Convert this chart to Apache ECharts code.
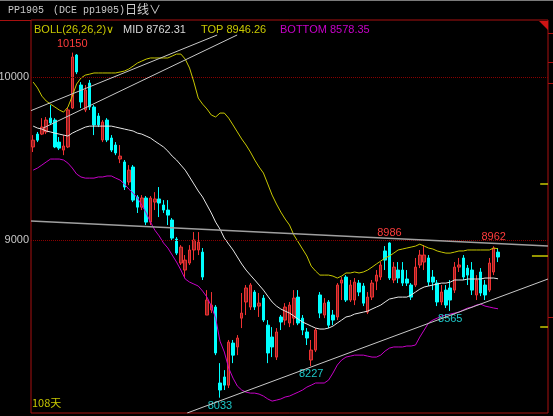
<!DOCTYPE html>
<html>
<head>
<meta charset="utf-8">
<title>PP1905 日线</title>
<script src="https://cdn.jsdelivr.net/npm/echarts@6/dist/echarts.min.js"></script>
<style>
html, body { margin: 0; padding: 0; background: #000; }
#main { width: 553px; height: 416px; }
</style>
</head>
<body>
<div id="main"></div>
<script>
// 108 trading days are shown, the rest of the axis is free room on the right
const dayCount = 108;
const emptySlots = 11;
const days = [];
for (let i = 0; i < dayCount + emptySlots; i++) days.push(i < dayCount ? 'D' + (i + 1) : '');

// K line
const opens = [9571, 9650, 9650, 9663, 9748, 9736, 9601, 9552, 9571, 9810,
  10135, 9951, 9798, 9963, 9816, 9761, 9614, 9736, 9626, 9583,
  9497, 9479, 9356, 9448, 9264, 9202, 9258, 9110, 9233, 9252,
  9215, 9184, 9123, 9006, 8859, 8816, 8859, 8939, 8939, 8926,
  8540, 8571, 8589, 8123, 8160, 8110, 8368, 8344, 8521, 8620,
  8589, 8681, 8595, 8644, 8478, 8405, 8282, 8528, 8509, 8491,
  8521, 8650, 8521, 8436, 8264, 8325, 8663, 8540, 8620, 8540,
  8528, 8736, 8773, 8632, 8632, 8736, 8718, 8558, 8650, 8748,
  8773, 8933, 8982, 8755, 8816, 8816, 8761, 8724, 8724, 8847,
  8865, 8890, 8773, 8736, 8620, 8693, 8706, 8693, 8834, 8890,
  8828, 8816, 8663, 8804, 8724, 8693, 8804, 8926];
const closes = [9613, 9613, 9693, 9736, 9718, 9571, 9564, 9577, 9798, 10123,
  10031, 9847, 9920, 9816, 9706, 9706, 9724, 9614, 9552, 9534,
  9515, 9325, 9429, 9245, 9202, 9258, 9110, 9258, 9252, 9227,
  9184, 9153, 9012, 8920, 8957, 8877, 8939, 9000, 8988, 8773,
  8632, 8601, 8307, 8080, 8110, 8374, 8294, 8399, 8552, 8706,
  8724, 8589, 8613, 8509, 8307, 8344, 8436, 8497, 8589, 8601,
  8644, 8491, 8448, 8399, 8325, 8448, 8552, 8613, 8478, 8509,
  8724, 8755, 8632, 8724, 8742, 8681, 8613, 8650, 8736, 8785,
  8847, 8877, 8767, 8834, 8767, 8736, 8736, 8650, 8834, 8908,
  8908, 8742, 8742, 8620, 8681, 8601, 8632, 8834, 8847, 8773,
  8785, 8693, 8755, 8675, 8663, 8859, 8951, 8896];
const lows = [9540, 9601, 9644, 9650, 9706, 9564, 9552, 9521, 9564, 9804,
  10018, 9810, 9785, 9798, 9644, 9693, 9601, 9601, 9540, 9521,
  9472, 9307, 9337, 9233, 9166, 9184, 9092, 9092, 9184, 9141,
  9166, 9092, 9000, 8908, 8847, 8767, 8847, 8877, 8908, 8755,
  8540, 8552, 8294, 8033, 8080, 8092, 8245, 8294, 8460, 8540,
  8571, 8571, 8528, 8497, 8245, 8282, 8264, 8448, 8478, 8466,
  8478, 8478, 8417, 8356, 8227, 8313, 8521, 8521, 8460, 8478,
  8509, 8632, 8620, 8620, 8601, 8656, 8595, 8546, 8632, 8693,
  8755, 8816, 8755, 8736, 8736, 8718, 8718, 8632, 8712, 8828,
  8816, 8718, 8693, 8595, 8601, 8583, 8565, 8675, 8804, 8755,
  8724, 8663, 8632, 8656, 8632, 8681, 8785, 8865];
const highs = [9644, 9663, 9748, 9755, 9828, 9748, 9632, 9644, 9810, 10150,
  10141, 9969, 9951, 9982, 9828, 9779, 9736, 9748, 9644, 9601,
  9583, 9491, 9460, 9460, 9276, 9276, 9270, 9270, 9294, 9325,
  9245, 9245, 9135, 9018, 8969, 8908, 8969, 9049, 9049, 8951,
  8693, 8681, 8601, 8245, 8202, 8387, 8387, 8417, 8675, 8724,
  8736, 8693, 8675, 8663, 8509, 8466, 8460, 8540, 8613, 8620,
  8693, 8693, 8540, 8460, 8387, 8460, 8681, 8644, 8632, 8571,
  8736, 8773, 8785, 8755, 8767, 8755, 8736, 8681, 8755, 8816,
  8865, 8963, 8986, 8865, 8865, 8865, 8816, 8736, 8890, 8939,
  8969, 8908, 8816, 8755, 8724, 8724, 8755, 8865, 8890, 8908,
  8847, 8865, 8785, 8828, 8755, 8890, 8962, 8951];

// BOLL(26,26,2) bands
const bollTop = [9969, 9933, 9883, 9853, 9834, 9816, 9798, 9785, 9816, 9883,
  9957, 9994, 10012, 10018, 10025, 10025, 10025, 10025, 10025, 10025,
  10031, 10037, 10049, 10067, 10086, 10098, 10110, 10117, 10117, 10117,
  10117, 10117, 10129, 10141, 10141, 10110, 10055, 9969, 9871, 9834,
  9804, 9767, 9755, 9779, 9779, 9748, 9706, 9663, 9620, 9583,
  9540, 9491, 9448, 9411, 9344, 9276, 9221, 9172, 9129, 9092,
  9031, 8988, 8945, 8902, 8840, 8810, 8785, 8785, 8785, 8779,
  8767, 8779, 8798, 8798, 8804, 8798, 8804, 8816, 8834, 8853,
  8871, 8890, 8902, 8920, 8939, 8945, 8951, 8957, 8963, 8975,
  8963, 8951, 8945, 8933, 8926, 8920, 8920, 8926, 8933, 8933,
  8939, 8939, 8939, 8939, 8939, 8939, 8951, 8946.26];
const bollMid = [9699, 9687, 9681, 9669, 9663, 9656, 9650, 9644, 9638, 9656,
  9669, 9681, 9693, 9699, 9699, 9699, 9699, 9699, 9699, 9693,
  9687, 9681, 9675, 9669, 9656, 9650, 9638, 9626, 9607, 9589,
  9571, 9546, 9515, 9491, 9460, 9429, 9387, 9344, 9301, 9264,
  9215, 9166, 9110, 9067, 9012, 8975, 8939, 8896, 8853, 8816,
  8785, 8755, 8724, 8693, 8656, 8620, 8595, 8577, 8564, 8552,
  8534, 8515, 8497, 8485, 8472, 8460, 8454, 8454, 8460, 8472,
  8491, 8509, 8528, 8534, 8546, 8552, 8558, 8564, 8577, 8589,
  8601, 8620, 8638, 8644, 8650, 8650, 8650, 8663, 8681, 8699,
  8712, 8718, 8724, 8730, 8736, 8736, 8742, 8755, 8755, 8755,
  8761, 8761, 8761, 8761, 8767, 8767, 8767, 8762.31];
const bollBottom = [9429, 9442, 9460, 9479, 9497, 9497, 9497, 9491, 9472, 9442,
  9405, 9387, 9380, 9380, 9380, 9387, 9387, 9393, 9393, 9380,
  9368, 9344, 9313, 9288, 9258, 9215, 9166, 9110, 9061, 9025,
  8982, 8951, 8908, 8865, 8816, 8761, 8742, 8730, 8718, 8687,
  8650, 8595, 8521, 8380, 8313, 8215, 8153, 8104, 8080, 8067,
  8061, 8061, 8055, 8043, 8025, 8012, 8018, 8025, 8037, 8043,
  8055, 8067, 8080, 8098, 8110, 8123, 8123, 8123, 8141, 8184,
  8233, 8264, 8282, 8288, 8294, 8294, 8294, 8288, 8282, 8282,
  8294, 8319, 8337, 8344, 8344, 8344, 8350, 8350, 8356, 8405,
  8448, 8491, 8509, 8521, 8534, 8540, 8546, 8552, 8558, 8571,
  8583, 8589, 8601, 8607, 8595, 8589, 8583, 8578.35];

// hand drawn trend lines: [dayIndex, price] end points
const trendUpA = [[-0.5, 9794], [42.35, 10258]];
const trendUpB = [[2.3, 9687], [46.95, 10258]];
const trendSupport = [[35.44, 7939], [118.5, 8761]];
const trendFlat = [[-0.5, 9117], [118.5, 8963]];
// short yellow price marks at the right edge
const edgeMarks = [[116.7, 9344], [114.8, 8902], [116.7, 8466]];

const yTicks = [9000, 10000];
const highMarks = [9, 82, 106];
const lowMarks = [43, 64, 96];

const ohlc = opens.map((o, i) => [o, closes[i], lows[i], highs[i]]);

const font = 'Liberation Sans';
const RED = '#ff3c3c';
const CYAN = '#1ec8c8';

const chart = echarts.init(document.getElementById('main'));

const trendSeries = (data, color, width) => ({
    type: 'line',
    xAxisIndex: 1,
    yAxisIndex: 0,
    data: data,
    symbol: 'none',
    silent: true,
    lineStyle: { color: color, width: width },
    z: 5
});

const option = {
    backgroundColor: '#000',
    animation: false,
    grid: {
        left: 31, right: 5, top: 20, bottom: 3,
        show: true,
        borderColor: '#a81010',
        borderWidth: 1,
        backgroundColor: 'transparent'
    },
    xAxis: [
        { type: 'category', data: days, show: false, boundaryGap: true },
        { type: 'value', min: -0.5, max: dayCount + emptySlots - 0.5, show: false }
    ],
    yAxis: {
        type: 'value',
        min: 7939,
        max: 10350,
        show: false,
        splitLine: { show: false }
    },
    series: [
        {
            type: 'candlestick',
            data: ohlc,
            barWidth: 3,
            itemStyle: {
                color: '#8e2020',
                color0: '#00ffff',
                borderColor: '#f03232',
                borderColor0: '#00ffff',
                borderWidth: 1
            },
            markLine: {
                symbol: 'none',
                silent: true,
                lineStyle: { color: '#8a0000', type: 'dotted', width: 1 },
                label: {
                    position: 'start',
                    distance: 2,
                    color: '#c8c8c8',
                    fontFamily: font,
                    fontSize: 11,
                    formatter: p => p.value
                },
                data: yTicks.map(v => ({ yAxis: v }))
            },
            markPoint: {
                symbol: 'circle',
                symbolSize: 1,
                silent: true,
                itemStyle: { color: 'rgba(0,0,0,0)' },
                label: { fontFamily: font, fontSize: 11, formatter: p => p.value },
                data: highMarks.map(i => ({
                    coord: [i, highs[i]], value: highs[i],
                    label: { position: 'top', distance: 3, color: RED }
                })).concat(lowMarks.map(i => ({
                    coord: [i, lows[i]], value: lows[i],
                    label: { position: 'bottom', distance: 2, color: CYAN }
                })))
            },
            z: 2
        },
        { type: 'line', data: bollMid, symbol: 'none', silent: true, lineStyle: { color: '#e6e6e6', width: 1 }, z: 3 },
        { type: 'line', data: bollTop, symbol: 'none', silent: true, lineStyle: { color: '#c8c800', width: 1 }, z: 3 },
        { type: 'line', data: bollBottom, symbol: 'none', silent: true, lineStyle: { color: '#c800c8', width: 1 }, z: 3 },
        trendSeries(trendUpA, '#c8c8c8', 1),
        trendSeries(trendUpB, '#c8c8c8', 1),
        trendSeries(trendSupport, '#c8c8c8', 1),
        trendSeries(trendFlat, '#a0a0a0', 1.5),
        {
            type: 'line',
            xAxisIndex: 1,
            data: [],
            silent: true,
            markLine: {
                symbol: 'none',
                silent: true,
                label: { show: false },
                lineStyle: { color: '#c8c800', width: 1.5, type: 'solid' },
                data: edgeMarks.map(m => [{ coord: [m[0], m[1]] }, { coord: [dayCount + emptySlots - 0.5, m[1]] }])
            }
        }
    ],
    graphic: [
        { type: 'rect', shape: { x: 0, y: 0, width: 553, height: 1 }, style: { fill: '#7a7a7a' }, silent: true },
        { type: 'line', shape: { x1: 0, y1: 20.5, x2: 31, y2: 20.5 }, style: { stroke: '#a81010', lineWidth: 1 }, silent: true },
        { type: 'polygon', shape: { points: [[539, 21], [548, 21], [548, 30]] }, style: { fill: '#d01414' }, silent: true },
        { type: 'line', shape: { x1: 548, y1: 33.5, x2: 553, y2: 33.5 }, style: { stroke: '#a81010' }, silent: true },
        { type: 'line', shape: { x1: 548, y1: 62.5, x2: 553, y2: 62.5 }, style: { stroke: '#a81010' }, silent: true },
        { type: 'line', shape: { x1: 548, y1: 83.5, x2: 553, y2: 83.5 }, style: { stroke: '#a81010' }, silent: true },
        { type: 'line', shape: { x1: 548, y1: 317.5, x2: 553, y2: 317.5 }, style: { stroke: '#a81010' }, silent: true },
        { type: 'text', left: 8, top: 5, style: { text: 'PP1905', fill: '#c8c8c8', font: '10px "Liberation Mono"' } },
        { type: 'text', left: 53, top: 5, style: { text: '(DCE pp1905)', fill: '#c8c8c8', font: '10px "Liberation Mono"' } },
        { type: 'text', left: 125, top: 3, style: { text: '日线∨', fill: '#d0d0d0', font: '12px "Noto Sans CJK SC"' } },
        { type: 'text', left: 34, top: 24, style: { text: 'BOLL(26,26,2)∨', fill: '#c8c800', font: '11px "' + font + '"' } },
        { type: 'text', left: 123, top: 24, style: { text: 'MID ' + bollMid[dayCount - 1].toFixed(2), fill: '#d8d8d8', font: '11px "' + font + '"' } },
        { type: 'text', left: 201, top: 24, style: { text: 'TOP ' + bollTop[dayCount - 1].toFixed(2), fill: '#c8c800', font: '11px "' + font + '"' } },
        { type: 'text', left: 280, top: 24, style: { text: 'BOTTOM ' + bollBottom[dayCount - 1].toFixed(2), fill: '#c800c8', font: '11px "' + font + '"' } },
        { type: 'text', left: 32, top: 397, style: { text: dayCount + '天', fill: '#c8c800', font: '11px "Noto Sans CJK SC"' } }
    ]
};

chart.setOption(option);

window.addEventListener('resize', () => {
    chart.resize();
});
</script>
</body>
</html>
